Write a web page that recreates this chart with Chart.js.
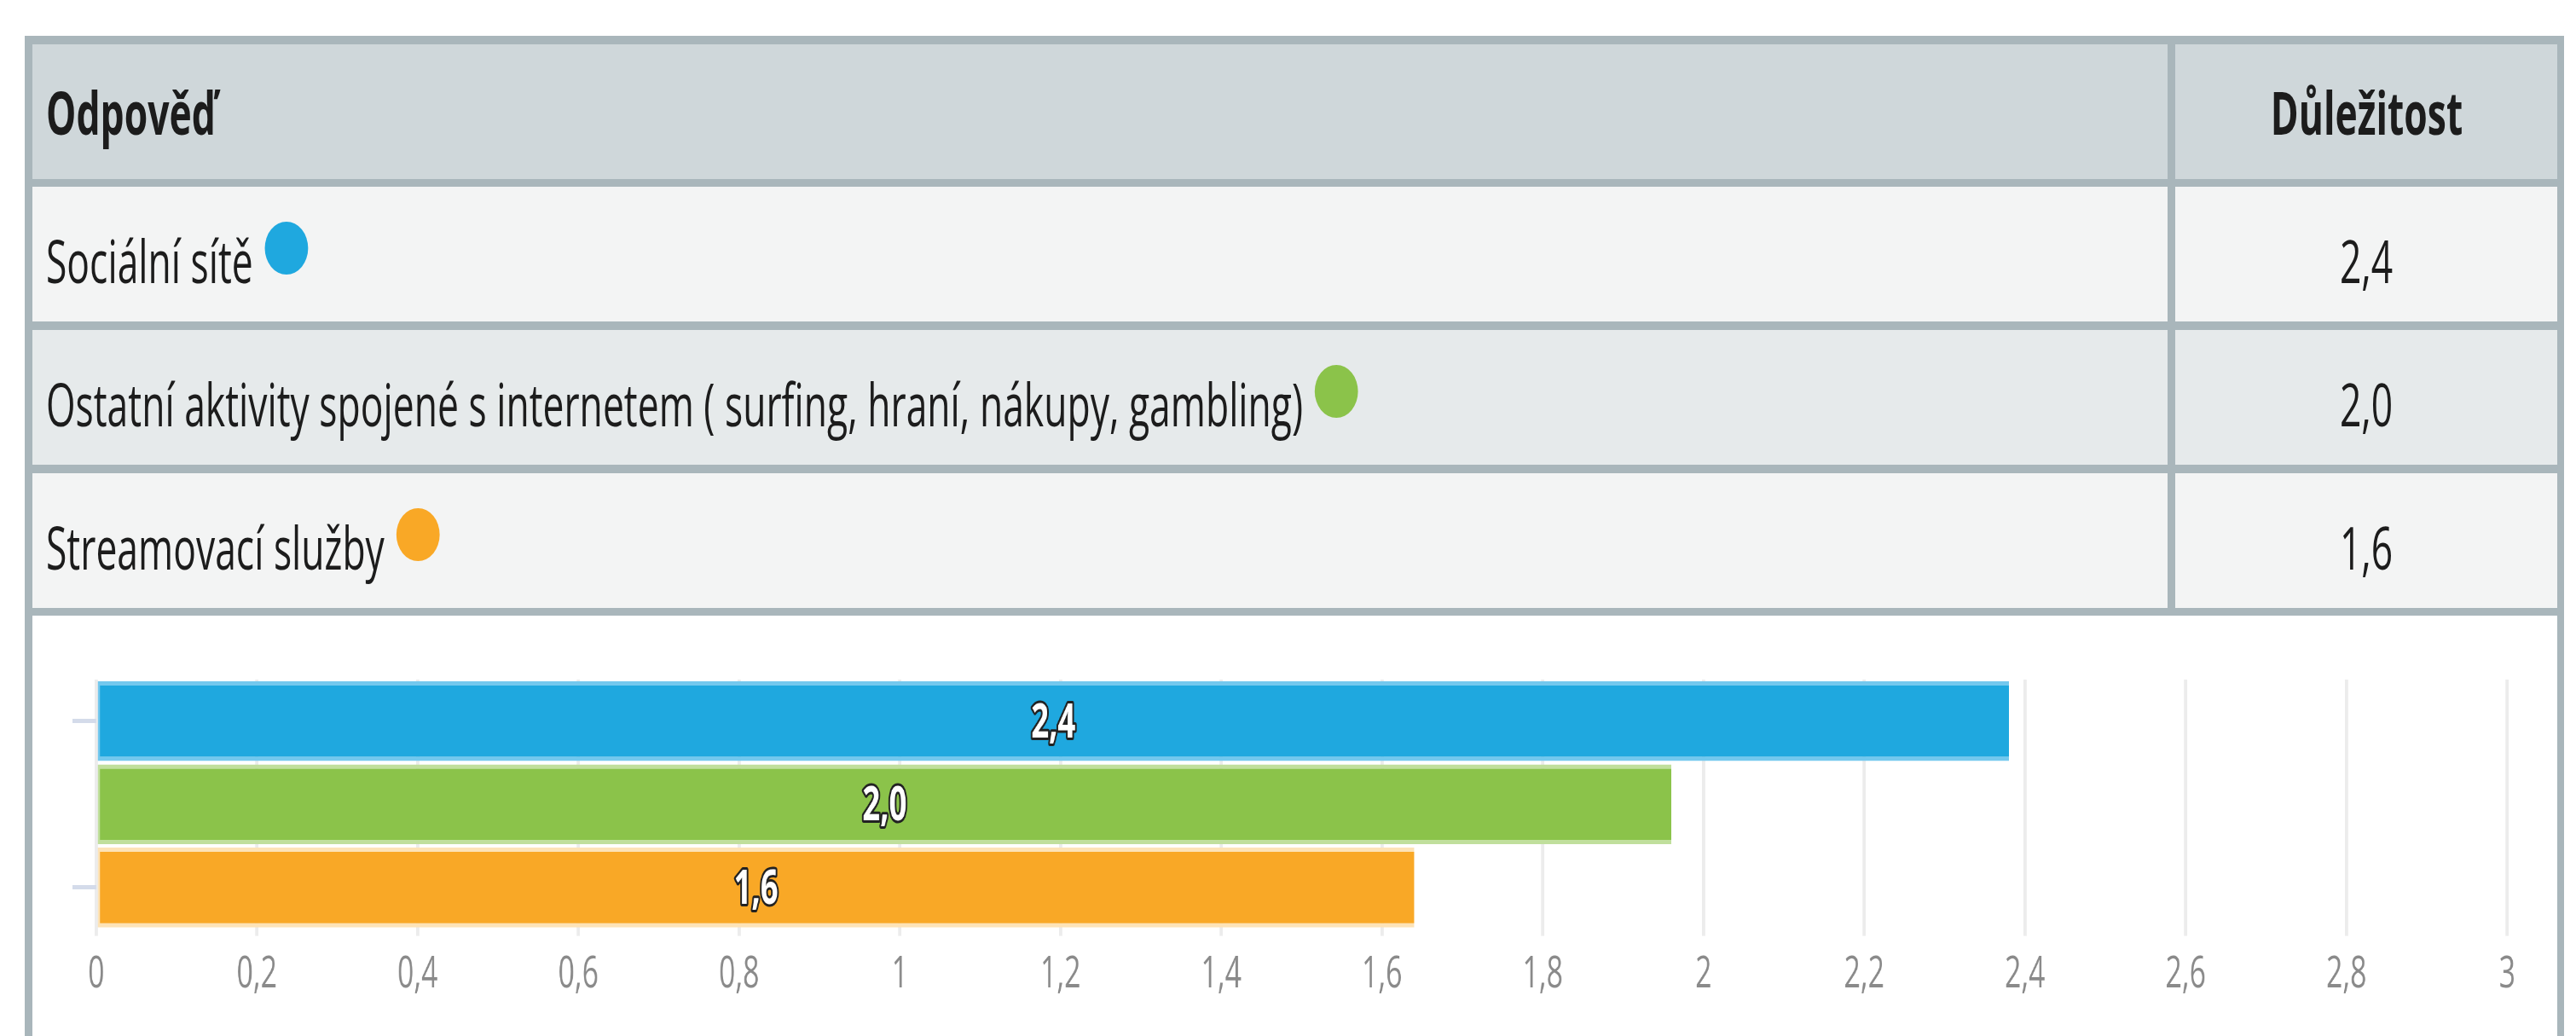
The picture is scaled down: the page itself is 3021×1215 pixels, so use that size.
<!DOCTYPE html>
<html>
<head>
<meta charset="utf-8">
<script src="https://cdn.jsdelivr.net/npm/chart.js@4.4.1/dist/chart.umd.min.js"></script>
<style>
html, body { margin: 0; padding: 0; background: #fff; }
body { width: 3021px; height: 1215px; position: relative; overflow: hidden; font-family: "Open Sans", sans-serif; color: #1c1c1c; }
#frame { position: absolute; left: 29px; top: 42px; width: 2978px; height: 1200px; background: #a9b6bb; }
.cell { position: absolute; display: flex; align-items: center; box-sizing: border-box; height: 158px; }
.left { left: 38px; width: 2504px; padding-left: 16px; }
.right { left: 2551px; width: 448px; justify-content: center; }
.head { background: #cfd7da; font-weight: 700; }
.odd { background: #f3f4f4; }
.even { background: #e6eaeb; }
.txt { display: inline-block; white-space: nowrap; font-size: 70px; transform: scaleX(0.635); transform-origin: left center; }
.right .txt { transform-origin: center center; }
.rowtxt { padding-top: 14px; }
.dot { display: inline-block; width: 80px; height: 62px; border-radius: 50%; margin-left: 22px; position: relative; top: -22px; vertical-align: middle; }
#chartArea { position: absolute; left: 38px; top: 722px; width: 2961px; height: 493px; background: #fff; overflow: hidden; }
#chartBox { position: absolute; left: 0; top: 0; width: 4555px; height: 493px; transform: scaleX(0.65); transform-origin: 0 0; }
</style>
</head>
<body>
<div id="frame"></div>
<div id="table"></div>
<div id="chartArea"><div id="chartBox"><canvas id="mixChart"></canvas></div></div>

<script>
var headers = ["Odpověď", "Důležitost"];
var categories = [
    "Sociální sítě",
    "Ostatní aktivity spojené s internetem ( surfing, hraní, nákupy, gambling)",
    "Streamovací služby"
];
var importance = [2.38, 1.96, 1.64];
var barColors = ["#1fa8df", "#8bc34a", "#f9a826"];
var barEdges = ["#73c8ee", "#c0df9c", "#fde3b7"];
var xTicks = [0, 0.2, 0.4, 0.6, 0.8, 1, 1.2, 1.4, 1.6, 1.8, 2, 2.2, 2.4, 2.6, 2.8, 3];

function fmt(v) {
    return String(Math.round(v * 10) / 10).replace('.', ',');
}

function fmtFixed(v) {
    return v.toFixed(1).replace('.', ',');
}

// table above the chart
var rowTops = [52, 219, 387, 555];
var html = '';
html += '<div class="cell left head" style="top:' + rowTops[0] + 'px"><span class="txt">' + headers[0] + '</span></div>';
html += '<div class="cell right head" style="top:' + rowTops[0] + 'px"><span class="txt">' + headers[1] + '</span></div>';
categories.forEach(function (name, i) {
    var cls = (i % 2 === 0) ? 'odd' : 'even';
    var top = rowTops[i + 1];
    html += '<div class="cell left rowtxt ' + cls + '" style="top:' + top + 'px"><span class="txt">' + name +
        '<span class="dot" style="background:' + barColors[i] + '"></span></span></div>';
    html += '<div class="cell right rowtxt ' + cls + '" style="top:' + top + 'px"><span class="txt">' + fmtFixed(importance[i]) + '</span></div>';
});
document.getElementById('table').innerHTML = html;

var valueLabels = {
    id: 'valueLabels',
    afterDatasetsDraw: function (chart) {
        var ctx = chart.ctx;
        var meta = chart.getDatasetMeta(0);
        ctx.save();
        ctx.font = 'bold 56px "Open Sans"';
        ctx.textAlign = 'center';
        ctx.textBaseline = 'middle';
        ctx.lineWidth = 6;
        ctx.lineJoin = 'round';
        ctx.strokeStyle = '#222';
        ctx.fillStyle = '#fff';
        meta.data.forEach(function (bar, i) {
            var p = bar.getCenterPoint();
            var t = fmtFixed(importance[i]);
            ctx.strokeText(t, p.x, p.y + 3);
            ctx.fillText(t, p.x, p.y + 3);
        });
        ctx.restore();
    }
};

var ctx = document.getElementById('mixChart').getContext('2d');
var chart = new Chart(ctx, {
    type: 'bar',
    data: {
        labels: categories,
        datasets: [{
            data: importance,
            backgroundColor: barColors,
            borderColor: barEdges,
            borderWidth: { top: 5, bottom: 5, left: 4, right: 0 },
            borderSkipped: false,
            barPercentage: 0.96,
            categoryPercentage: 1
        }]
    },
    options: {
        indexAxis: 'y',
        responsive: true,
        maintainAspectRatio: false,
        animation: false,
        layout: { padding: { left: 72, right: 90, top: 75, bottom: 27 } },
        plugins: {
            legend: { display: false },
            tooltip: { enabled: false }
        },
        scales: {
            x: {
                min: 0,
                max: 3,
                afterBuildTicks: function (axis) {
                    axis.ticks = xTicks.map(function (v) { return { value: v }; });
                },
                grid: { color: '#ececec', lineWidth: 6, tickLength: 8 },
                border: { display: false },
                ticks: {
                    color: '#8a8a8a',
                    font: { size: 52, family: 'Open Sans' },
                    padding: 14,
                    maxRotation: 0,
                    autoSkip: false,
                    callback: function (value) { return fmt(value); }
                }
            },
            y: {
                grid: {
                    offset: false,
                    drawOnChartArea: false,
                    tickLength: 43,
                    lineWidth: 5,
                    color: function (c) { return c.index === 1 ? 'rgba(0,0,0,0)' : '#d4dbea'; }
                },
                border: { display: false },
                ticks: { display: false }
            }
        }
    },
    plugins: [valueLabels]
});
</script>
</body>
</html>
